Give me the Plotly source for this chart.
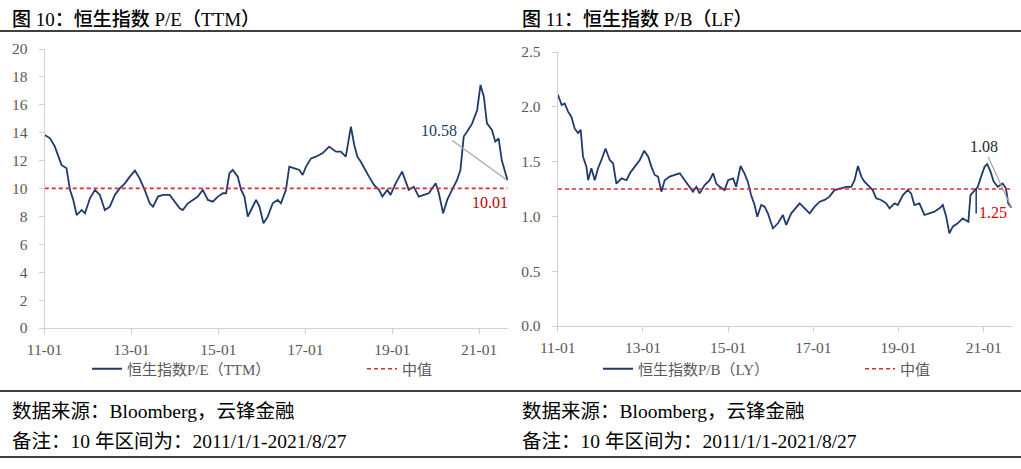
import plotly.graph_objects as go

# ---------------- data ----------------
pe_dates = ["2011-01-03","2011-02-17","2011-03-29","2011-04-26","2011-05-24","2011-07-05","2011-08-03","2011-08-31","2011-09-28","2011-11-09","2011-12-07",
            "2012-01-18","2012-02-29","2012-04-10","2012-05-22","2012-07-03","2012-08-14","2012-09-26","2012-11-07","2012-12-18",
            "2013-01-30","2013-03-10","2013-04-22","2013-06-03","2013-07-01","2013-08-12","2013-09-23","2013-11-18","2013-12-30",
            "2014-02-10","2014-03-08","2014-04-20","2014-06-01","2014-07-12","2014-08-23","2014-10-05","2014-11-16","2014-12-28",
            "2015-02-09","2015-03-07","2015-04-04","2015-05-02","2015-06-13","2015-07-11","2015-08-08","2015-08-22","2015-09-05","2015-10-03","2015-11-14","2015-12-12",
            "2016-01-15","2016-02-20","2016-04-02","2016-05-13","2016-06-10","2016-07-22","2016-08-19","2016-10-01","2016-11-12","2016-12-09",
            "2017-01-07","2017-02-18","2017-03-30","2017-05-25","2017-07-20","2017-09-15","2017-10-26","2017-12-07",
            "2018-01-05","2018-01-19","2018-02-16","2018-03-14","2018-04-11","2018-05-09","2018-06-20","2018-08-01","2018-09-12","2018-10-10","2018-11-21","2018-12-18",
            "2019-01-30","2019-03-25","2019-04-22","2019-05-20","2019-07-01","2019-08-12","2019-09-24","2019-11-05",
            "2020-01-01","2020-01-28","2020-03-04","2020-04-07","2020-05-18","2020-06-29","2020-07-27","2020-08-24","2020-09-22","2020-11-03","2020-12-15",
            "2021-01-12","2021-02-09","2021-03-07","2021-04-18","2021-05-16","2021-06-13","2021-07-10","2021-08-03","2021-08-27"]
pe_values = [13.84,13.6,13.0,12.4,11.69,11.45,9.9,9.18,8.1,8.46,8.22,
             9.3,9.9,9.54,8.46,8.7,9.54,10.02,10.37,10.85,
             11.28,10.73,9.9,8.94,8.7,9.42,9.54,9.54,9.06,
             8.58,8.46,8.94,9.18,9.42,9.9,9.18,9.06,9.42,
             9.66,9.66,11.09,11.33,10.85,9.9,9.42,8.58,7.98,8.46,9.18,8.7,
             7.51,7.98,8.94,9.18,8.94,9.9,11.57,11.45,11.33,10.97,
             11.57,12.16,12.28,12.52,13.0,12.64,12.64,12.28,
             13.6,14.43,13.12,12.28,11.93,11.45,10.85,10.25,9.9,9.42,9.9,9.54,
             10.37,11.21,10.61,9.9,10.13,9.42,9.54,9.66,
             10.37,9.66,8.22,9.18,9.9,10.61,11.33,13.72,14.08,14.67,15.63,
             17.42,16.58,14.67,14.2,13.36,13.6,12.0,11.3,10.58]
pe_median = 10.01

pb_dates = ["2011-01-03","2011-02-04","2011-03-02","2011-03-31","2011-04-28","2011-05-27","2011-06-24","2011-07-17","2011-08-06","2011-09-04","2011-09-19","2011-10-17","2011-11-15","2011-12-13",
            "2012-01-11","2012-02-15","2012-03-22","2012-04-20","2012-05-18","2012-07-01","2012-08-13","2012-09-11","2012-10-23","2012-12-05",
            "2013-01-12","2013-02-15","2013-03-14","2013-04-12","2013-05-10","2013-06-08","2013-07-06","2013-08-18","2013-10-01","2013-11-13","2013-12-25",
            "2014-02-07","2014-03-06","2014-04-04","2014-05-02","2014-06-14","2014-07-27","2014-08-25","2014-09-22","2014-10-21","2014-12-02",
            "2015-01-01","2015-02-13","2015-03-11","2015-04-18","2015-05-21","2015-06-19","2015-07-17","2015-08-16","2015-09-08","2015-10-12","2015-11-10","2015-12-08",
            "2016-01-20","2016-03-03","2016-04-15","2016-05-13","2016-06-25","2016-08-08","2016-09-06","2016-10-18","2016-11-30",
            "2017-01-12","2017-02-24","2017-04-07","2017-05-19","2017-07-01","2017-08-27","2017-10-09","2017-11-22","2017-12-20",
            "2018-01-18","2018-02-16","2018-03-15","2018-04-27","2018-05-25","2018-06-23","2018-08-05","2018-09-17","2018-10-16","2018-11-28","2018-12-26",
            "2019-02-08","2019-03-21","2019-04-19","2019-05-17","2019-06-29","2019-08-11","2019-09-23","2019-11-05","2019-12-18",
            "2020-01-16","2020-02-14","2020-03-12","2020-04-10","2020-05-22","2020-07-04","2020-08-02","2020-08-22","2020-09-09","2020-10-13","2020-11-11","2020-12-09",
            "2021-01-08","2021-01-30","2021-02-28","2021-03-27","2021-05-01","2021-06-12","2021-07-10","2021-07-30","2021-08-27"]
pb_values = [2.11,2.016,2.03,1.956,1.91,1.80,1.76,1.79,1.545,1.454,1.33,1.44,1.33,1.44,
             1.515,1.62,1.515,1.484,1.30,1.347,1.33,1.393,1.454,1.515,
             1.60,1.545,1.454,1.378,1.363,1.226,1.33,1.363,1.378,1.393,1.33,
             1.27,1.226,1.27,1.21,1.286,1.33,1.393,1.30,1.27,1.24,
             1.33,1.347,1.27,1.46,1.393,1.317,1.195,1.104,0.997,1.104,1.089,1.028,
             0.891,0.937,1.013,0.922,1.028,1.089,1.119,1.074,1.028,
             1.089,1.134,1.15,1.18,1.24,1.256,1.27,1.27,1.33,
             1.46,1.363,1.317,1.27,1.24,1.165,1.15,1.119,1.074,1.119,1.104,
             1.195,1.24,1.21,1.104,1.119,1.013,1.028,1.043,1.074,
             1.104,0.997,0.845,0.906,0.937,0.982,0.967,0.952,1.195,1.24,1.27,1.363,
             1.454,1.478,1.408,1.317,1.27,1.30,1.256,1.119,1.08]
pb_median = 1.25
pb_label_date = "2020-10-28"

titles = ["图 10：恒生指数 P/E（TTM）", "图 11：恒生指数 P/B（LF）"]
series_names = ["恒生指数P/E（TTM）", "恒生指数P/B（LY）"]
median_name = "中值"
source_text = "数据来源：Bloomberg，云锋金融"
note_text = "备注：10 年区间为：2011/1/1-2021/8/27"

# ---------------- style ----------------
W, H = 1021, 469
FONT = "Liberation Serif, Noto Sans CJK SC, serif"
NAVY = "#1f3a6b"
RED = "#e0282e"
GREY_TXT = "#595959"
AXIS_C = "#d0d0d0"

def px_x(p):
    return p / W

def px_y(p):
    return 1 - p / H

fig = go.Figure()

fig.add_trace(go.Scatter(x=pe_dates, y=pe_values, mode="lines", name=series_names[0],
                         line=dict(color=NAVY, width=1.8), xaxis="x", yaxis="y", legend="legend"))
fig.add_trace(go.Scatter(x=[pe_dates[0], pe_dates[-1]], y=[pe_median, pe_median], mode="lines", name=median_name,
                         line=dict(color=RED, width=1.6, dash="4px,3px"), xaxis="x", yaxis="y", legend="legend2"))
fig.add_trace(go.Scatter(x=pb_dates, y=pb_values, mode="lines", name=series_names[1],
                         line=dict(color=NAVY, width=1.8), xaxis="x2", yaxis="y2", legend="legend3"))
fig.add_trace(go.Scatter(x=[pb_dates[0], pb_dates[-1]], y=[pb_median, pb_median], mode="lines", name=median_name,
                         line=dict(color=RED, width=1.6, dash="4px,3px"), xaxis="x2", yaxis="y2", legend="legend4"))

xcommon = dict(type="date", tickformat="%y-%m", dtick="M24", tick0="2011-01-01",
               showline=True, linecolor=AXIS_C, linewidth=1, ticks="outside", ticklen=5, tickcolor=AXIS_C,
               showgrid=False, zeroline=False, tickfont=dict(family=FONT, size=15.5, color=GREY_TXT),
               ticklabelstandoff=2, automargin=False,
               range=["2011-01-01", "2021-08-31"], fixedrange=True)
ycommon = dict(showline=True, linecolor=AXIS_C, linewidth=1, ticks="outside", ticklen=5, tickcolor=AXIS_C,
               showgrid=False, zeroline=False, tickfont=dict(family=FONT, size=15.5, color=GREY_TXT),
               ticklabelstandoff=8, automargin=False, fixedrange=True)

legfont = dict(family=FONT, size=15, color=GREY_TXT)
fig.update_layout(
    width=W, height=H, margin=dict(l=0, r=0, t=0, b=0, autoexpand=False),
    paper_bgcolor="white", plot_bgcolor="white",
    font=dict(family=FONT, color=GREY_TXT),
    xaxis=dict(domain=[px_x(44.5), px_x(508)], anchor="y", **xcommon),
    yaxis=dict(domain=[px_y(328), px_y(49)], anchor="x", range=[0, 20], dtick=2, **ycommon),
    xaxis2=dict(domain=[px_x(557.7), px_x(1012)], anchor="y2", **xcommon),
    yaxis2=dict(domain=[px_y(326), px_y(52)], anchor="x2", range=[0, 2.5], dtick=0.5, tickformat=".1f", **ycommon),
    legend=dict(x=px_x(87), y=px_y(369), xanchor="left", yanchor="middle", orientation="h",
                font=legfont, bgcolor="rgba(0,0,0,0)"),
    legend2=dict(x=px_x(362), y=px_y(369), xanchor="left", yanchor="middle", orientation="h",
                 font=legfont, bgcolor="rgba(0,0,0,0)"),
    legend3=dict(x=px_x(598), y=px_y(369), xanchor="left", yanchor="middle", orientation="h",
                 font=legfont, bgcolor="rgba(0,0,0,0)"),
    legend4=dict(x=px_x(860), y=px_y(369), xanchor="left", yanchor="middle", orientation="h",
                 font=legfont, bgcolor="rgba(0,0,0,0)"),
    showlegend=True,
)

# horizontal rules
for yy, w in [(31, 1.5), (391, 1.5), (457, 1.5)]:
    fig.add_shape(type="line", xref="paper", yref="paper", x0=0, x1=1, y0=px_y(yy), y1=px_y(yy),
                  line=dict(color="black", width=w))

# titles and footers
for i, xoff in enumerate([10, 520]):
    fig.add_annotation(xref="paper", yref="paper", x=px_x(xoff), y=px_y(19), xanchor="left", yanchor="middle",
                       text=titles[i], showarrow=False,
                       font=dict(family=FONT, size=19, color="black", weight=500))
    fig.add_annotation(xref="paper", yref="paper", x=px_x(xoff), y=px_y(411), xanchor="left", yanchor="middle",
                       text=source_text, showarrow=False, font=dict(family=FONT, size=19.5, color="black"))
    fig.add_annotation(xref="paper", yref="paper", x=px_x(xoff), y=px_y(441), xanchor="left", yanchor="middle",
                       text=note_text, showarrow=False, font=dict(family=FONT, size=19.5, color="black"))

# data labels
fig.add_annotation(xref="x", yref="y", x=pe_dates[-1], y=pe_values[-1], text=f"{pe_values[-1]:.2f}",
                   showarrow=True, arrowhead=0, arrowcolor="#a6a6a6", arrowwidth=1.2, ax=-69, ay=-50,
                   font=dict(family=FONT, size=16, color=NAVY))
fig.add_annotation(xref="x", yref="y", x=pe_dates[-1], y=pe_median, text=f"{pe_median:.2f}",
                   showarrow=False, xanchor="right", yanchor="top", xshift=2, yshift=-4,
                   font=dict(family=FONT, size=16, color="#c00000"))
fig.add_annotation(xref="x2", yref="y2", x=pb_dates[-1], y=pb_values[-1], text=f"{pb_values[-1]:.2f}",
                   showarrow=True, arrowhead=0, arrowcolor="#a6a6a6", arrowwidth=1.2, ax=-28, ay=-61,
                   font=dict(family=FONT, size=16, color="#262626"))
fig.add_annotation(xref="x2", yref="y2", x=pb_label_date, y=pb_median, text=" ",
                   showarrow=True, arrowhead=0, arrowcolor=NAVY, arrowwidth=1.5, ax=0, ay=27,
                   font=dict(family=FONT, size=2))
fig.add_annotation(xref="x2", yref="y2", x=pb_label_date, y=pb_median, text=f"{pb_median:.2f}",
                   showarrow=False, xanchor="left", yanchor="top", xshift=1, yshift=-13,
                   font=dict(family=FONT, size=16, color="#e00000"))

fig.write_html("out.html", config={"displayModeBar": False},
               post_script="document.body.style.margin='0';document.body.style.overflow='hidden';")
